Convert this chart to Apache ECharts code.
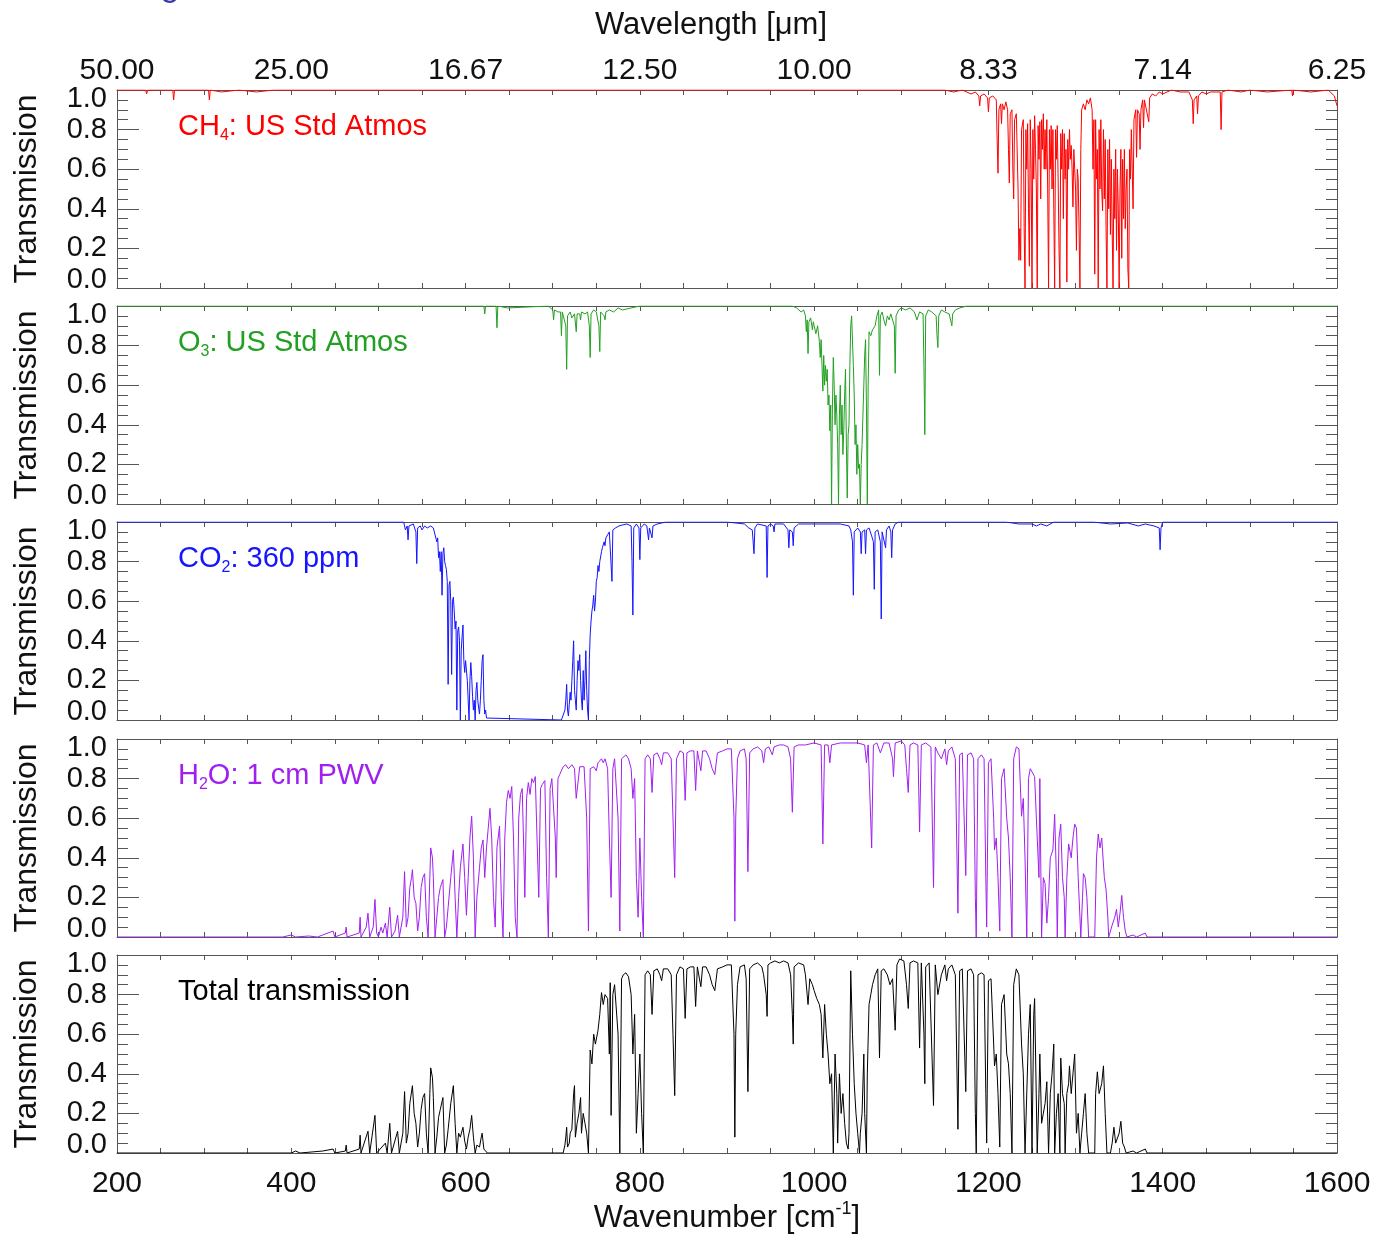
<!DOCTYPE html>
<html>
<head>
<meta charset="utf-8">
<title>Atmospheric transmission</title>
<script src="https://cdn.jsdelivr.net/npm/echarts@6/dist/echarts.min.js"></script>
<style>
  html, body { margin: 0; padding: 0; background: #fff; }
  #transChart { width: 1378px; height: 1235px; }
</style>
</head>
<body>
<div id="transChart"></div>
<script>
// tick labels
const wavenumberTicks = [200, 400, 600, 800, 1000, 1200, 1400, 1600]
const wavelengthLabels = ['50.00', '25.00', '16.67', '12.50', '10.00', '8.33', '7.14', '6.25']
const transmissionLabels = ['0.0', '0.2', '0.4', '0.6', '0.8', '1.0']

// [wavenumber cm-1, transmission]
const ch4Data = [
  [200, 1], [233, 1], [234, 0.98], [235, 1], [264, 1], [265, 0.95], [266, 1], [305, 1], [306, 0.95], [307, 1],
  [320, 0.99], [340, 1], [360, 0.99], [380, 1], [1150, 1], [1160, 0.99], [1170, 1], [1180, 0.98], [1185, 0.99],
  [1189, 0.97], [1190, 0.92], [1191, 0.97], [1195, 0.98], [1199, 0.96], [1200, 0.89], [1201, 0.96], [1205, 0.97],
  [1209, 0.95], [1210, 0.75], [1211, 0.58], [1212, 0.9], [1214, 0.93], [1215, 0.83], [1216, 0.93], [1218, 0.9],
  [1220, 0.94], [1222, 0.9], [1223, 0.7], [1224, 0.53], [1225, 0.88], [1227, 0.9], [1228, 0.6], [1229, 0.45],
  [1230, 0.85], [1232, 0.88], [1234, 0.5], [1235, 0.14], [1236, 0.3], [1237, 0.14], [1238, 0.8], [1240, 0.85],
  [1241, 0.3], [1242, 0], [1243, 0.8], [1244, 0.6], [1245, 0.83], [1246, 0.4], [1247, 0.11], [1248, 0.85], [1249, 0.6],
  [1250, 0], [1251, 0.8], [1252, 0.55], [1253, 0.87], [1254, 0.7], [1255, 0.5], [1256, 0], [1257, 0.82], [1258, 0.65],
  [1259, 0.84], [1260, 0.45], [1261, 0.85], [1262, 0.7], [1263, 0.88], [1264, 0.6], [1265, 0.8], [1266, 0.6],
  [1267, 0.85], [1268, 0.5], [1269, 0], [1270, 0.8], [1271, 0.6], [1272, 0.82], [1273, 0.5], [1274, 0.8], [1275, 0.4],
  [1276, 0], [1277, 0.8], [1278, 0.65], [1279, 0.82], [1280, 0.55], [1281, 0.2], [1282, 0], [1283, 0.78],
  [1284, 0.6], [1285, 0.8], [1286, 0.35], [1287, 0.78], [1288, 0.55], [1289, 0.7], [1290, 0.03], [1291, 0.75],
  [1292, 0.6], [1293, 0.8], [1294, 0.65], [1295, 0.72], [1296, 0.6], [1297, 0.41], [1298, 0.7], [1299, 0.6],
  [1300, 0.5], [1301, 0.19], [1302, 0.6], [1303, 0.55], [1304, 0.3], [1305, 0], [1306, 0.7], [1307, 0.9],
  [1309, 0.93], [1311, 0.9], [1313, 0.95], [1315, 0.93], [1317, 0.96], [1319, 0.9], [1320, 0.6], [1321, 0.85],
  [1322, 0.07], [1323, 0.85], [1324, 0.55], [1325, 0.7], [1326, 0], [1327, 0.8], [1328, 0.5], [1329, 0.85],
  [1330, 0.5], [1331, 0.39], [1332, 0.8], [1333, 0.45], [1334, 0.75], [1335, 0.3], [1336, 0], [1337, 0.7],
  [1338, 0.4], [1339, 0.75], [1340, 0.27], [1341, 0.65], [1342, 0.3], [1343, 0], [1344, 0.6], [1345, 0.35],
  [1346, 0.7], [1347, 0.19], [1348, 0.6], [1349, 0.4], [1350, 0], [1351, 0.5], [1352, 0.7], [1353, 0.15],
  [1354, 0.65], [1355, 0.35], [1356, 0.7], [1357, 0.3], [1358, 0.5], [1359, 0.6], [1360, 0.1], [1361, 0],
  [1362, 0.7], [1363, 0.55], [1364, 0.8], [1365, 0.6], [1366, 0.4], [1367, 0.85], [1369, 0.9], [1370, 0.66],
  [1371, 0.9], [1373, 0.88], [1374, 0.7], [1375, 0.9], [1377, 0.95], [1378, 0.81], [1379, 0.95], [1381, 0.96],
  [1384, 0.84], [1385, 0.96], [1388, 0.98], [1392, 0.97], [1396, 0.99], [1400, 0.98], [1405, 0.99], [1410, 1],
  [1420, 0.99], [1430, 0.99], [1434, 0.95], [1435, 0.83], [1436, 0.95], [1439, 0.97], [1440, 0.88], [1441, 0.97],
  [1445, 0.99], [1450, 0.98], [1455, 0.99], [1466, 0.99], [1467, 0.8], [1468, 0.99], [1475, 1], [1490, 0.99],
  [1500, 1], [1520, 0.99], [1548, 1], [1549, 0.97], [1550, 1], [1570, 0.99], [1590, 1], [1597, 0.97], [1600, 0.92]
]

const o3Data = [
  [200, 1], [577, 1], [578, 0.99], [579, 1], [621, 1], [622, 0.96], [623, 1], [635, 1], [636, 0.89], [637, 1],
  [648, 0.99], [650, 1], [695, 1], [700, 0.98], [701, 0.93], [702, 0.98], [706, 0.97], [709, 0.97], [710, 0.85],
  [711, 0.97], [713, 0.96], [715, 0.9], [716, 0.68], [717, 0.95], [720, 0.97], [722, 0.94], [725, 0.96],
  [727, 0.87], [728, 0.96], [731, 0.96], [732, 0.93], [733, 0.97], [737, 0.96], [740, 0.97], [742, 0.9],
  [743, 0.74], [744, 0.96], [747, 0.98], [750, 0.97], [753, 0.9], [754, 0.77], [755, 0.97], [759, 0.95],
  [760, 0.93], [761, 0.97], [765, 0.98], [770, 0.97], [775, 0.99], [780, 0.98], [790, 0.99], [800, 1],
  [975, 1], [980, 0.99], [985, 0.97], [988, 0.98], [990, 0.95], [991, 0.87], [992, 0.93], [993, 0.76],
  [994, 0.92], [996, 0.94], [998, 0.88], [999, 0.92], [1000, 0.9], [1002, 0.86], [1004, 0.9], [1006, 0.82],
  [1007, 0.74], [1008, 0.83], [1009, 0.7], [1010, 0.57], [1011, 0.75], [1012, 0.6], [1013, 0.7], [1014, 0.62],
  [1015, 0.68], [1016, 0.5], [1017, 0.55], [1018, 0.37], [1019, 0.5], [1020, 0], [1021, 0.5], [1022, 0.74],
  [1023, 0.6], [1024, 0.4], [1025, 0.55], [1026, 0.45], [1027, 0.3], [1028, 0], [1029, 0.45], [1030, 0.6],
  [1031, 0.35], [1032, 0.5], [1033, 0.25], [1034, 0.37], [1035, 0.55], [1036, 0.68], [1037, 0.3], [1038, 0.03],
  [1039, 0.35], [1040, 0.4], [1041, 0.7], [1042, 0.9], [1043, 0.95], [1044, 0.96], [1045, 0.7], [1046, 0.55],
  [1047, 0.3], [1048, 0.4], [1049, 0.15], [1050, 0.3], [1051, 0.18], [1052, 0.2], [1053, 0], [1054, 0.2],
  [1055, 0.3], [1056, 0.45], [1057, 0.6], [1058, 0.75], [1059, 0.83], [1060, 0.5], [1061, 0], [1062, 0.6],
  [1063, 0.87], [1065, 0.85], [1067, 0.88], [1070, 0.9], [1072, 0.95], [1074, 0.98], [1075, 0.65], [1076, 0.95],
  [1078, 0.97], [1080, 0.93], [1082, 0.9], [1084, 0.95], [1086, 0.93], [1088, 0.96], [1092, 0.9], [1093, 0.66],
  [1094, 0.95], [1097, 0.98], [1100, 0.99], [1105, 0.98], [1110, 0.99], [1115, 0.97], [1118, 0.93], [1121, 0.97],
  [1125, 0.96], [1126, 0.7], [1127, 0.35], [1128, 0.95], [1131, 0.98], [1135, 0.97], [1140, 0.95], [1141, 0.85],
  [1142, 0.79], [1143, 0.95], [1146, 0.98], [1150, 0.97], [1155, 0.96], [1157, 0.92], [1158, 0.9], [1159, 0.96],
  [1162, 0.98], [1167, 0.99], [1175, 1], [1600, 1]
]

const co2Data = [
  [200, 1], [529, 1], [531, 0.96], [533, 0.98], [534, 0.91], [535, 0.98], [540, 0.99], [543, 0.95], [544, 0.79],
  [545, 0.97], [548, 0.98], [550, 0.96], [553, 0.98], [556, 0.97], [560, 0.98], [563, 0.97], [565, 0.96],
  [567, 0.9], [568, 0.92], [569, 0.82], [570, 0.85], [571, 0.75], [572, 0.85], [573, 0.63], [574, 0.84],
  [575, 0.87], [576, 0.8], [577, 0.78], [578, 0.76], [579, 0.7], [580, 0.18], [581, 0.68], [582, 0.7], [583, 0.6],
  [584, 0.23], [585, 0.6], [586, 0.62], [587, 0.55], [588, 0.46], [589, 0.5], [590, 0.05], [591, 0.45],
  [592, 0.47], [593, 0.4], [594, 0], [595, 0.35], [596, 0.42], [597, 0.48], [598, 0.3], [599, 0.24], [600, 0.3],
  [601, 0.31], [602, 0.2], [603, 0.1], [604, 0], [605, 0.2], [606, 0.29], [607, 0.22], [608, 0.12], [609, 0.05],
  [610, 0.1], [611, 0], [612, 0.15], [613, 0.19], [614, 0.1], [615, 0.06], [616, 0.03], [617, 0.1], [618, 0.2],
  [619, 0.3], [620, 0.33], [621, 0.1], [622, 0.03], [623, 0.05], [624, 0.01], [625, 0], [710, 0], [712, 0.01],
  [714, 0.05], [715, 0.1], [716, 0.18], [717, 0.05], [718, 0.02], [719, 0.08], [720, 0.14], [721, 0.1],
  [722, 0.2], [723, 0.3], [724, 0.4], [725, 0.15], [726, 0.1], [727, 0.05], [728, 0.2], [729, 0.3], [730, 0.25],
  [731, 0.33], [732, 0.2], [733, 0.1], [734, 0.05], [735, 0.25], [736, 0.1], [737, 0.2], [738, 0.35],
  [739, 0.15], [740, 0.05], [741, 0], [742, 0.3], [743, 0.43], [744, 0.5], [745, 0.55], [746, 0.58], [747, 0.63],
  [748, 0.55], [749, 0.6], [750, 0.7], [751, 0.72], [752, 0.78], [753, 0.75], [754, 0.8], [756, 0.85],
  [757, 0.87], [759, 0.9], [760, 0.88], [761, 0.92], [763, 0.93], [765, 0.95], [767, 0.96], [768, 0.7],
  [769, 0.96], [772, 0.97], [776, 0.98], [780, 0.985], [785, 0.99], [790, 0.98], [791, 0.8], [792, 0.53],
  [793, 0.97], [796, 0.99], [799, 0.97], [800, 0.81], [801, 0.97], [805, 0.99], [808, 0.98], [810, 0.91],
  [811, 0.97], [813, 0.98], [814, 0.92], [815, 0.98], [820, 0.99], [830, 1], [900, 1], [920, 0.99], [925, 0.97],
  [929, 0.96], [931, 0.84], [932, 0.97], [935, 0.99], [945, 0.98], [946, 0.72], [947, 0.98], [950, 0.99],
  [953, 0.98], [954, 0.95], [955, 0.99], [965, 0.99], [970, 0.96], [971, 0.87], [972, 0.96], [975, 0.95],
  [976, 0.88], [977, 0.97], [982, 0.99], [1030, 0.99], [1040, 0.98], [1042, 0.96], [1044, 0.9], [1045, 0.63],
  [1046, 0.95], [1050, 0.97], [1053, 0.95], [1054, 0.84], [1055, 0.95], [1058, 0.96], [1059, 0.84], [1060, 0.96],
  [1063, 0.97], [1066, 0.93], [1068, 0.9], [1069, 0.66], [1070, 0.95], [1073, 0.96], [1076, 0.9], [1077, 0.51],
  [1078, 0.95], [1080, 0.96], [1082, 0.87], [1083, 0.96], [1086, 0.98], [1088, 0.95], [1089, 0.82], [1090, 0.96],
  [1093, 0.99], [1097, 1], [1220, 1], [1235, 0.99], [1250, 0.99], [1255, 0.98], [1260, 0.99], [1267, 0.98],
  [1275, 1], [1320, 1], [1340, 0.99], [1360, 0.995], [1372, 0.98], [1380, 0.99], [1390, 0.98], [1396, 0.97],
  [1397, 0.86], [1398, 0.97], [1400, 1], [1600, 1]
]

const h2oData = [
  [200, 0], [390, 0], [400, 0.01], [405, 0], [420, 0.005], [430, 0], [436, 0.01], [437, 0], [448, 0.03], [450, 0],
  [462, 0.02], [463, 0.05], [464, 0], [478, 0.02], [479, 0.1], [480, 0], [486, 0.05], [488, 0.12], [490, 0],
  [494, 0.05], [496, 0.19], [498, 0.02], [500, 0], [503, 0.05], [505, 0.02], [508, 0.07], [510, 0], [513, 0.15],
  [515, 0], [519, 0.03], [522, 0.11], [524, 0], [528, 0.1], [530, 0.33], [532, 0.05], [534, 0.1], [536, 0.25],
  [538, 0.3], [539, 0.34], [541, 0.2], [543, 0.17], [545, 0.03], [547, 0.1], [549, 0.25], [551, 0.3], [553, 0.32],
  [555, 0.1], [557, 0], [559, 0.3], [560, 0.45], [562, 0.4], [563, 0.3], [565, 0], [567, 0.1], [569, 0.2],
  [571, 0.25], [574, 0.29], [576, 0], [578, 0.05], [580, 0.15], [583, 0.3], [586, 0.44], [588, 0.2], [590, 0],
  [592, 0.2], [594, 0.35], [597, 0.47], [599, 0.3], [601, 0.11], [603, 0.3], [605, 0.5], [607, 0.61], [609, 0.4],
  [611, 0], [613, 0.2], [616, 0.35], [618, 0.45], [620, 0.49], [622, 0.3], [624, 0.45], [626, 0.55], [628, 0.65],
  [630, 0.5], [632, 0.2], [634, 0.05], [636, 0.45], [639, 0.56], [641, 0.2], [643, 0], [645, 0.5], [647, 0.68],
  [649, 0.74], [651, 0.7], [653, 0.76], [655, 0.5], [657, 0.1], [659, 0], [661, 0.6], [663, 0.72], [665, 0.75],
  [667, 0.4], [668, 0.2], [670, 0.7], [672, 0.78], [674, 0.72], [676, 0.8], [678, 0.78], [680, 0.81], [682, 0.5],
  [684, 0.2], [686, 0.75], [688, 0.77], [691, 0.79], [693, 0.3], [695, 0], [697, 0.75], [699, 0.8], [701, 0.81],
  [703, 0.5], [704, 0.3], [706, 0.8], [708, 0.82], [710, 0.82], [712, 0.86], [715, 0.87], [718, 0.85], [720, 0.86],
  [722, 0.87], [725, 0.85], [727, 0.7], [729, 0.7], [731, 0.86], [733, 0.87], [736, 0.86], [739, 0.6], [741, 0.03],
  [743, 0.85], [745, 0.86], [747, 0.86], [750, 0.84], [752, 0.88], [754, 0.89], [756, 0.9], [758, 0.88], [760, 0.9],
  [763, 0.85], [765, 0.5], [767, 0.2], [769, 0.85], [771, 0.9], [773, 0.91], [775, 0.6], [777, 0.03], [779, 0.9],
  [781, 0.91], [784, 0.92], [787, 0.9], [790, 0.85], [792, 0.7], [794, 0.8], [796, 0.3], [798, 0.1], [800, 0.5],
  [802, 0.2], [804, 0], [806, 0.9], [809, 0.92], [812, 0.9], [814, 0.73], [816, 0.92], [820, 0.93], [823, 0.9],
  [825, 0.87], [827, 0.93], [832, 0.93], [836, 0.9], [838, 0.6], [840, 0.3], [842, 0.9], [846, 0.94], [850, 0.93],
  [852, 0.69], [854, 0.93], [858, 0.94], [862, 0.94], [864, 0.74], [866, 0.94], [868, 0.93], [870, 0.84],
  [872, 0.94], [876, 0.94], [880, 0.9], [883, 0.85], [886, 0.82], [889, 0.93], [895, 0.94], [900, 0.95],
  [905, 0.95], [908, 0.6], [909, 0.08], [910, 0.6], [912, 0.9], [915, 0.94], [920, 0.95], [922, 0.9], [924, 0.33],
  [926, 0.93], [930, 0.95], [935, 0.96], [940, 0.94], [942, 0.88], [944, 0.95], [948, 0.96], [952, 0.92],
  [954, 0.96], [960, 0.97], [965, 0.97], [970, 0.96], [973, 0.9], [975, 0.63], [977, 0.96], [982, 0.97],
  [990, 0.97], [1000, 0.98], [1008, 0.97], [1010, 0.47], [1012, 0.97], [1016, 0.97], [1018, 0.88], [1020, 0.97],
  [1030, 0.98], [1040, 0.98], [1050, 0.98], [1058, 0.97], [1060, 0.88], [1062, 0.97], [1066, 0.45], [1068, 0.97],
  [1072, 0.98], [1076, 0.93], [1080, 0.98], [1086, 0.98], [1090, 0.9], [1091, 0.81], [1093, 0.98], [1100, 0.99],
  [1104, 0.97], [1106, 0.85], [1108, 0.73], [1110, 0.97], [1114, 0.98], [1119, 0.97], [1121, 0.53], [1123, 0.97],
  [1128, 0.98], [1134, 0.96], [1137, 0.25], [1139, 0.96], [1142, 0.93], [1146, 0.9], [1150, 0.95], [1152, 0.87],
  [1154, 0.94], [1158, 0.96], [1162, 0.9], [1165, 0.12], [1167, 0.92], [1170, 0.93], [1174, 0.31], [1176, 0.92],
  [1180, 0.93], [1183, 0.9], [1185, 0.2], [1186, 0], [1188, 0.9], [1192, 0.92], [1195, 0.9], [1197, 0.3],
  [1198, 0.05], [1200, 0.88], [1203, 0.9], [1206, 0.6], [1207, 0.44], [1209, 0.5], [1211, 0.3], [1213, 0.03],
  [1215, 0.8], [1218, 0.85], [1221, 0.6], [1223, 0.5], [1225, 0.3], [1227, 0], [1229, 0.9], [1232, 0.96],
  [1235, 0.95], [1238, 0.61], [1240, 0.7], [1242, 0.4], [1244, 0], [1246, 0.8], [1248, 0.85], [1250, 0.84],
  [1253, 0.81], [1256, 0.5], [1258, 0.3], [1259, 0.8], [1261, 0], [1263, 0.3], [1265, 0.27], [1267, 0.07],
  [1269, 0.2], [1271, 0.4], [1274, 0.44], [1276, 0.62], [1278, 0.3], [1279, 0], [1281, 0.5], [1283, 0.57],
  [1285, 0.3], [1287, 0.2], [1288, 0], [1290, 0.3], [1292, 0.47], [1295, 0.4], [1297, 0.5], [1299, 0.57],
  [1301, 0.55], [1303, 0.3], [1306, 0], [1308, 0.2], [1309, 0.32], [1311, 0.3], [1313, 0.2], [1315, 0],
  [1322, 0], [1324, 0.4], [1326, 0.52], [1328, 0.45], [1330, 0.5], [1333, 0.3], [1335, 0.24], [1337, 0.1],
  [1338, 0], [1342, 0.06], [1345, 0.1], [1347, 0.14], [1349, 0.05], [1351, 0.12], [1353, 0.21], [1355, 0.1],
  [1357, 0.03], [1359, 0], [1366, 0.01], [1370, 0], [1380, 0.02], [1382, 0], [1600, 0]
]

const totalData = [
  [200, 0], [400, 0], [405, 0.01], [410, 0], [436, 0.01], [437, 0], [448, 0.02], [450, 0], [462, 0.01], [463, 0.04],
  [464, 0], [478, 0.02], [479, 0.09], [480, 0], [488, 0.11], [490, 0], [496, 0.19], [498, 0], [508, 0.05], [510, 0],
  [513, 0.15], [515, 0], [522, 0.11], [524, 0], [528, 0.1], [530, 0.31], [532, 0.05], [534, 0.1], [536, 0.25],
  [539, 0.34], [541, 0.2], [543, 0.15], [545, 0.03], [547, 0.1], [549, 0.22], [551, 0.28], [553, 0.3], [555, 0.1],
  [557, 0], [559, 0.3], [560, 0.43], [562, 0.38], [563, 0.28], [565, 0], [567, 0.08], [569, 0.18], [571, 0.22],
  [574, 0.28], [576, 0], [578, 0.04], [580, 0.12], [583, 0.25], [586, 0.34], [588, 0.15], [590, 0], [592, 0.1],
  [594, 0.08], [597, 0.13], [599, 0.06], [601, 0.02], [603, 0.08], [605, 0.12], [607, 0.19], [609, 0.08], [611, 0],
  [613, 0.04], [616, 0.03], [618, 0.08], [619, 0.1], [621, 0.02], [623, 0.03], [625, 0], [712, 0], [714, 0.04],
  [715, 0.08], [716, 0.13], [717, 0.03], [719, 0.05], [720, 0.1], [722, 0.12], [724, 0.3], [725, 0.34], [726, 0.08],
  [728, 0.15], [730, 0.2], [732, 0.28], [733, 0.1], [735, 0.2], [737, 0.15], [739, 0.1], [741, 0], [743, 0.52],
  [745, 0.45], [747, 0.6], [749, 0.55], [752, 0.62], [754, 0.7], [756, 0.81], [758, 0.75], [760, 0.8], [763, 0.78],
  [765, 0.5], [766, 0.86], [767, 0.19], [769, 0.8], [771, 0.85], [773, 0.86], [775, 0.6], [777, 0], [779, 0.88],
  [781, 0.9], [784, 0.91], [787, 0.89], [790, 0.8], [792, 0.5], [794, 0.7], [796, 0.1], [798, 0.3], [800, 0.5],
  [802, 0.2], [804, 0], [806, 0.9], [809, 0.92], [812, 0.9], [814, 0.7], [816, 0.92], [820, 0.93], [823, 0.9],
  [825, 0.87], [827, 0.93], [832, 0.93], [836, 0.9], [838, 0.6], [840, 0.29], [842, 0.9], [846, 0.94], [850, 0.93],
  [852, 0.68], [854, 0.93], [858, 0.94], [862, 0.94], [864, 0.74], [866, 0.94], [868, 0.93], [870, 0.84],
  [872, 0.94], [876, 0.94], [880, 0.9], [883, 0.85], [886, 0.82], [889, 0.93], [895, 0.94], [900, 0.95],
  [905, 0.95], [908, 0.6], [909, 0.08], [910, 0.6], [912, 0.85], [915, 0.94], [920, 0.95], [922, 0.88],
  [924, 0.31], [926, 0.93], [930, 0.95], [935, 0.96], [940, 0.94], [942, 0.9], [945, 0.8], [946, 0.69],
  [947, 0.95], [950, 0.96], [955, 0.97], [960, 0.96], [965, 0.97], [970, 0.96], [973, 0.9], [975, 0.7],
  [976, 0.55], [977, 0.94], [982, 0.96], [988, 0.95], [990, 0.9], [992, 0.8], [993, 0.75], [995, 0.88],
  [998, 0.85], [1000, 0.82], [1003, 0.78], [1006, 0.75], [1008, 0.7], [1010, 0.48], [1012, 0.75], [1014, 0.6],
  [1016, 0.5], [1018, 0.35], [1020, 0.4], [1022, 0], [1024, 0.5], [1026, 0.3], [1027, 0.05], [1029, 0.4],
  [1031, 0.2], [1033, 0.3], [1035, 0.15], [1037, 0.05], [1039, 0.02], [1040, 0.1], [1042, 0.92], [1044, 0.6],
  [1046, 0.35], [1048, 0.2], [1050, 0.1], [1052, 0], [1053, 0.1], [1055, 0.2], [1057, 0.5], [1058, 0.2],
  [1060, 0], [1061, 0.4], [1063, 0.75], [1065, 0.8], [1067, 0.85], [1070, 0.9], [1073, 0.93], [1075, 0.48],
  [1077, 0.92], [1080, 0.93], [1084, 0.9], [1087, 0.85], [1090, 0.88], [1093, 0.62], [1095, 0.95], [1098, 0.98],
  [1103, 0.97], [1106, 0.85], [1108, 0.73], [1110, 0.96], [1114, 0.97], [1119, 0.96], [1121, 0.53], [1123, 0.96],
  [1126, 0.6], [1127, 0.35], [1128, 0.94], [1132, 0.96], [1134, 0.95], [1137, 0.24], [1139, 0.95], [1142, 0.8],
  [1146, 0.9], [1150, 0.95], [1152, 0.87], [1154, 0.93], [1158, 0.95], [1162, 0.9], [1165, 0.12], [1167, 0.92],
  [1170, 0.93], [1174, 0.31], [1176, 0.92], [1180, 0.93], [1183, 0.9], [1185, 0.2], [1186, 0], [1188, 0.9],
  [1192, 0.91], [1195, 0.9], [1197, 0.3], [1198, 0.05], [1200, 0.87], [1203, 0.88], [1206, 0.55], [1207, 0.44],
  [1209, 0.5], [1211, 0.3], [1213, 0.03], [1215, 0.75], [1218, 0.8], [1221, 0.5], [1223, 0.45], [1225, 0.3],
  [1227, 0], [1229, 0.85], [1232, 0.93], [1235, 0.9], [1238, 0.55], [1240, 0.4], [1242, 0], [1244, 0],
  [1246, 0.6], [1248, 0.75], [1250, 0], [1252, 0.7], [1253, 0.78], [1256, 0], [1258, 0.3], [1259, 0.5],
  [1261, 0.15], [1263, 0.2], [1265, 0.25], [1267, 0.36], [1269, 0], [1271, 0.3], [1273, 0.4], [1275, 0.55],
  [1276, 0], [1278, 0.2], [1280, 0.3], [1282, 0], [1283, 0.48], [1285, 0.3], [1287, 0.25], [1288, 0], [1290, 0.3],
  [1292, 0.35], [1293, 0.44], [1295, 0.3], [1297, 0.4], [1299, 0.5], [1301, 0.1], [1303, 0.2], [1305, 0],
  [1307, 0.1], [1309, 0.2], [1311, 0.3], [1313, 0.1], [1315, 0], [1322, 0], [1323, 0.3], [1325, 0.41],
  [1327, 0.3], [1330, 0.35], [1332, 0.44], [1334, 0.2], [1336, 0], [1340, 0], [1342, 0.05], [1344, 0.13],
  [1346, 0.05], [1350, 0.1], [1352, 0.16], [1354, 0.05], [1356, 0.03], [1358, 0], [1366, 0.01], [1370, 0],
  [1380, 0.02], [1382, 0], [1600, 0]
]

const panels = [
  { label: ['CH', '4', ': US Std Atmos'], color: '#ff0000', data: ch4Data },
  { label: ['O', '3', ': US Std Atmos'], color: '#22a022', data: o3Data },
  { label: ['CO', '2', ': 360 ppm'], color: '#1515ff', data: co2Data },
  { label: ['H', '2', 'O: 1 cm PWV'], color: '#a020f0', data: h2oData },
  { label: ['Total transmission', '', ''], color: '#000000', data: totalData }
]

const gridLeft = 117
const gridWidth = 1220
const gridTops = [90, 306, 522, 739, 955]
const gridHeight = 198
const frameColor = '#555'
const textFont = 'Liberation Sans'

function initChart() {
  const chart = echarts.init(document.getElementById('transChart'))
  const grid = []
  const xAxis = []
  const yAxis = []
  const series = []
  const graphic = []

  panels.forEach((p, i) => {
    grid.push({ left: gridLeft, top: gridTops[i], width: gridWidth, height: gridHeight })
    const tick = { inside: true, length: 5, lineStyle: { color: frameColor } }
    // bottom axis
    xAxis.push({
      type: 'value', gridIndex: i, position: 'bottom', min: 200, max: 1600, interval: 200,
      axisLine: { onZero: false, lineStyle: { color: frameColor, width: 1 } },
      axisTick: tick,
      minorTick: { show: true, splitNumber: 4, length: 5, lineStyle: { color: frameColor } },
      splitLine: { show: false },
      axisLabel: {
        show: i === 4, margin: 16, fontFamily: textFont, fontSize: 30, color: '#111',
        formatter: v => String(wavenumberTicks[wavenumberTicks.indexOf(v)])
      }
    })
    // top axis
    xAxis.push({
      type: 'value', gridIndex: i, position: 'top', min: 200, max: 1600, interval: 200,
      axisLine: { onZero: false, lineStyle: { color: frameColor, width: 1 } },
      axisTick: tick,
      minorTick: { show: true, splitNumber: 4, length: 5, lineStyle: { color: frameColor } },
      splitLine: { show: false },
      axisLabel: {
        show: i === 0, margin: 4, fontFamily: textFont, fontSize: 30, color: '#111',
        formatter: v => wavelengthLabels[wavenumberTicks.indexOf(v)]
      }
    })
    const yBase = {
      type: 'value', gridIndex: i, min: 0, max: 1, interval: 0.2,
      axisLine: { show: true, onZero: false, lineStyle: { color: frameColor, width: 1 } },
      axisTick: { inside: true, length: 22, lineStyle: { color: frameColor } },
      minorTick: { show: true, splitNumber: 4, length: 11, lineStyle: { color: frameColor } },
      splitLine: { show: false }
    }
    yAxis.push(Object.assign({}, yBase, {
      position: 'left',
      axisLabel: {
        margin: 10, fontFamily: textFont, fontSize: 29, color: '#111',
        formatter: v => {
          const s = transmissionLabels[Math.round(v / 0.2)]
          if (v >= 1) return '{hi|' + s + '}'
          if (v <= 0) return '{lo|' + s + '}'
          return s
        },
        rich: {
          hi: { fontFamily: textFont, fontSize: 29, color: '#111', padding: [18, 0, 0, 0] },
          lo: { fontFamily: textFont, fontSize: 29, color: '#111', padding: [0, 0, 16, 0] }
        }
      }
    }))
    yAxis.push(Object.assign({}, yBase, { position: 'right', axisLabel: { show: false } }))

    series.push({
      type: 'line', xAxisIndex: 2 * i, yAxisIndex: 2 * i, data: p.data,
      showSymbol: false, symbol: 'none', silent: true, clip: true,
      lineStyle: { color: p.color, width: 1 },
      animation: false
    })

    // panel label with subscript
    graphic.push({
      type: 'text', left: 178, top: gridTops[i] + 22,
      style: {
        text: '{a|' + p.label[0] + '}' + (p.label[1] ? '{s|' + p.label[1] + '}' : '') + (p.label[2] ? '{a|' + p.label[2] + '}' : ''),
        rich: {
          a: { fontFamily: textFont, fontSize: 29, lineHeight: 34, fill: p.color },
          s: { fontFamily: textFont, fontSize: 16, lineHeight: 16, fill: p.color, verticalAlign: 'bottom' }
        }
      }
    })
    // y title
    graphic.push({
      type: 'text', x: 27, y: gridTops[i] + gridHeight / 2, rotation: Math.PI / 2,
      style: {
        text: 'Transmission', fontFamily: textFont, fontSize: 32, fill: '#111',
        align: 'center', verticalAlign: 'middle'
      }
    })
  })

  // clipped fragment of a blue heading at the very top edge
  graphic.push({
    type: 'text', x: 170, y: 4,
    style: { text: 'g', fontFamily: textFont, fontSize: 34, fill: '#3a3aa8', align: 'center', verticalAlign: 'bottom' }
  })
  graphic.push({
    type: 'text', x: 711, y: 25,
    style: {
      text: 'Wavelength [\u03bcm]', fontFamily: textFont, fontSize: 31, fill: '#111',
      align: 'center', verticalAlign: 'middle'
    }
  })
  graphic.push({
    type: 'text', x: 727, y: 1218,
    style: {
      text: '{a|Wavenumber [cm}{p|-1}{a|]}',
      align: 'center', verticalAlign: 'middle',
      rich: {
        a: { fontFamily: textFont, fontSize: 31, lineHeight: 36, fill: '#111' },
        p: { fontFamily: textFont, fontSize: 18, lineHeight: 18, fill: '#111', verticalAlign: 'top' }
      }
    }
  })

  const option = {
    backgroundColor: '#fff',
    animation: false,
    grid: grid,
    xAxis: xAxis,
    yAxis: yAxis,
    series: series,
    graphic: graphic
  }
  option && chart.setOption(option)
}

initChart()
</script>
</body>
</html>
